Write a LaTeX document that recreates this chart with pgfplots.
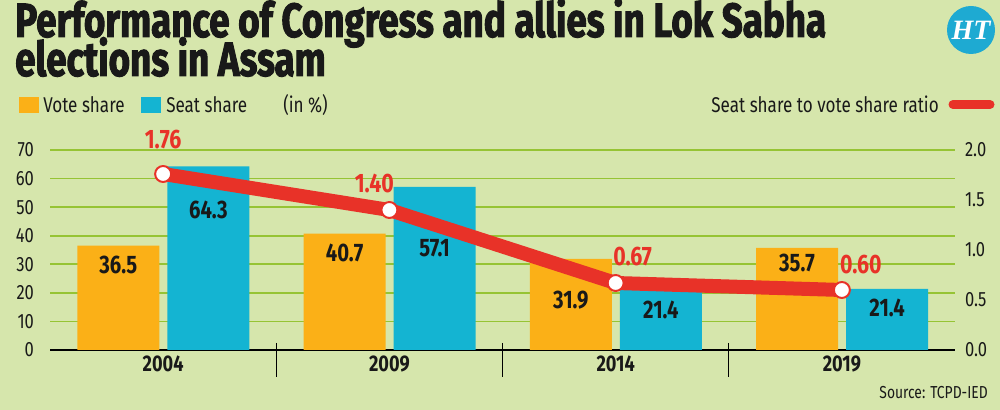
\documentclass[border=0pt]{standalone}
\usepackage{fontspec}
\setmainfont{Fira Sans}[FakeStretch=0.8]
\newfontfamily\titlefont{Fira Sans}[FakeStretch=0.765,FakeBold=2]
\newfontfamily\htfont{Liberation Serif}
\usepackage{pgfplots}
\pgfplotsset{compat=1.18}
\definecolor{bg}{RGB}{214,230,172}
\definecolor{gridg}{RGB}{150,196,52}
\definecolor{vorange}{RGB}{251,176,23}
\definecolor{sblue}{RGB}{20,180,210}
\definecolor{rred}{RGB}{232,50,40}
\definecolor{txt}{RGB}{25,25,25}
\definecolor{htblue}{RGB}{30,170,210}
\begin{document}
\begin{tikzpicture}[x=0.75pt,y=0.75pt]
\useasboundingbox (0,0) rectangle (1000,410);
\fill[bg] (0,0) rectangle (1000,410);
% title
\node[anchor=base west, inner sep=0, text=txt, font=\titlefont\fontsize{36}{40}\selectfont\bfseries] at (15,373) {Performance of Congress and allies in Lok Sabha};
\node[anchor=base west, inner sep=0, text=txt, font=\titlefont\fontsize{36}{40}\selectfont\bfseries] at (15,334) {elections in Assam};
% HT logo
\fill[htblue] (971,380) circle (24);
\node[text=white, font=\htfont\fontsize{21}{21}\selectfont\bfseries\itshape] at (971,380) {HT};
% legend
\fill[vorange] (19,297) rectangle (39,313);
\node[anchor=base west, inner sep=0, text=txt, font=\fontsize{16}{18}\selectfont] at (43,297) {Vote share};
\fill[sblue] (141,297) rectangle (161,313);
\node[anchor=base west, inner sep=0, text=txt, font=\fontsize{16}{18}\selectfont] at (166,297) {Seat share};
\node[anchor=base west, inner sep=0, text=txt, font=\fontsize{16}{18}\selectfont] at (283,297) {(in \%)};
\node[anchor=base east, inner sep=0, text=txt, font=\fontsize{16}{18}\selectfont] at (939,297) {Seat share to vote share ratio};
\draw[rred, line width=6.75pt, line cap=round] (953,305.5) -- (990,305.5);
% source
\node[anchor=east, inner sep=0, text=txt, font=\fontsize{13}{15}\selectfont] at (988,17) {Source: TCPD-IED};

\begin{axis}[
  at={(37.5pt,45pt)}, anchor=south west,
  scale only axis, width=678.75pt, height=150pt,
  xmin=-0.5, xmax=3.5, ymin=0, ymax=70,
  clip=false,
  axis x line*=bottom, axis y line*=left,
  y axis line style={draw=none},
  x axis line style={black, line width=1pt, -},
  ytick={0,10,...,70},
  ymajorgrids, grid style={gridg, line width=1.3pt},
  major tick length=0pt,
  xtick={0,1,2,3},
  xticklabels={2004,2009,2014,2019},
  xticklabel style={font=\fontsize{17}{19}\selectfont\bfseries, text=txt, yshift=-1pt},
  yticklabel style={font=\fontsize{15.5}{17}\selectfont, text=txt, xshift=-8.5pt},
  /pgf/number format/assume math mode=true,
]
\addplot[ybar, fill=vorange, draw=none, bar width=0.362, bar shift=-0.198] coordinates {(0,36.5) (1,40.7) (2,31.9) (3,35.7)};
\addplot[ybar, fill=sblue, draw=none, bar width=0.362, bar shift=0.2] coordinates {(0,64.3) (1,57.1) (2,21.4) (3,21.4)};
\draw[black, line width=1pt] (axis cs:0.5,2.45) -- (axis cs:0.5,-9.45);
\draw[black, line width=1pt] (axis cs:1.5,2.45) -- (axis cs:1.5,-9.45);
\draw[black, line width=1pt] (axis cs:2.5,2.45) -- (axis cs:2.5,-9.45);
\node[text=txt, font=\fontsize{19}{21}\selectfont\bfseries] at (axis cs:-0.198,29.75) {36.5};
\node[text=txt, font=\fontsize{19}{21}\selectfont\bfseries] at (axis cs:0.2,49.0) {64.3};
\node[text=txt, font=\fontsize{19}{21}\selectfont\bfseries] at (axis cs:0.802,33.95) {40.7};
\node[text=txt, font=\fontsize{19}{21}\selectfont\bfseries] at (axis cs:1.2,35.7) {57.1};
\node[text=txt, font=\fontsize{19}{21}\selectfont\bfseries] at (axis cs:1.802,17.5) {31.9};
\node[text=txt, font=\fontsize{19}{21}\selectfont\bfseries] at (axis cs:2.2,14.0) {21.4};
\node[text=txt, font=\fontsize{19}{21}\selectfont\bfseries] at (axis cs:2.802,30.45) {35.7};
\node[text=txt, font=\fontsize{19}{21}\selectfont\bfseries] at (axis cs:3.2,14.7) {21.4};
\end{axis}

\begin{axis}[
  at={(37.5pt,45pt)}, anchor=south west,
  scale only axis, width=678.75pt, height=150pt,
  xmin=-0.5, xmax=3.5, ymin=0, ymax=2,
  clip=false,
  axis x line=none, axis y line*=right,
  y axis line style={draw=none},
  major tick length=0pt,
  ytick={0,0.5,1,1.5,2},
  yticklabel style={font=\fontsize{15.5}{17}\selectfont, text=txt, xshift=4pt, /pgf/number format/.cd, fixed, fixed zerofill, precision=1},
  /pgf/number format/assume math mode=true,
]
\addplot[rred, line width=10.5pt, line join=round, mark=*, mark size=6pt, mark options={fill=white, draw=rred, line width=1.5pt}] coordinates {(0,1.76) (1,1.40) (2,0.67) (3,0.60)};
\node[text=rred, font=\fontsize{20}{22}\selectfont\bfseries] at (axis cs:0,2.10) {1.76};
\node[text=rred, font=\fontsize{20}{22}\selectfont\bfseries, xshift=-11.25pt] at (axis cs:1,1.67) {1.40};
\node[text=rred, font=\fontsize{20}{22}\selectfont\bfseries, xshift=12.75pt] at (axis cs:2,0.93) {0.67};
\node[text=rred, font=\fontsize{20}{22}\selectfont\bfseries, xshift=14.25pt] at (axis cs:3,0.85) {0.60};
\end{axis}
\end{tikzpicture}
\end{document}
